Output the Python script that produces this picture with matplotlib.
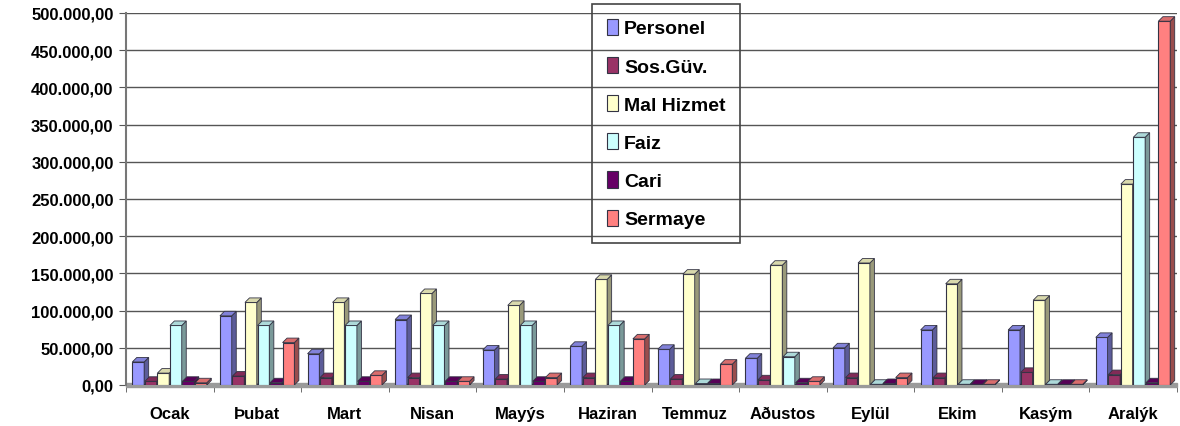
import numpy as np
import matplotlib.pyplot as plt
from matplotlib.patches import Polygon
from matplotlib import colors as mcolors

# Data
months = ["Ocak", "Þubat", "Mart", "Nisan", "Mayýs", "Haziran", "Temmuz",
          "Aðustos", "Eylül", "Ekim", "Kasým", "Aralýk"]
series = ["Personel", "Sos.Güv.", "Mal Hizmet", "Faiz", "Cari", "Sermaye"]

personel = [31000, 93000, 42000, 88000, 47000, 52000, 48000, 36000, 50000, 74000, 74000, 64000]
sos_guv = [5000, 12000, 10000, 10000, 8000, 10000, 8000, 7000, 10000, 10000, 17000, 14000]
mal_hizmet = [16000, 111000, 111000, 123000, 107000, 142000, 149000, 161000, 164000, 136000, 114000, 270000]
faiz = [80000, 80000, 80000, 80000, 80000, 80000, 2000, 38000, 1000, 1000, 1000, 333000]
cari = [5000, 3000, 5000, 5000, 5000, 5000, 2000, 3000, 2000, 1000, 1000, 3000]
sermaye = [3000, 57000, 13000, 5000, 10000, 62000, 28000, 5000, 10000, 1000, 1000, 489000]

values = [personel, sos_guv, mal_hizmet, faiz, cari, sermaye]
bar_colors = ["#9999FF", "#993366", "#FFFFCC", "#CCFFFF", "#660066", "#FF8080"]

yticks = np.arange(0, 500001, 50000)
ytick_labels = ["0,00"] + [f"{v // 1000}.000,00" for v in yticks[1:]]

plt.rcParams['font.family'] = ['Liberation Sans', 'DejaVu Sans']

fig = plt.figure(figsize=(11.8, 4.27), dpi=100)
ax = fig.add_axes([126 / 1180, 1 - 386 / 427, 1051 / 1180, 372 / 427])

x = np.arange(len(months))
width = 0.135
step = 0.143
offsets = -0.36 + step * np.arange(len(series))

ax.set_xlim(-0.5, len(months) - 0.5)
ax.set_ylim(0, 500000)

# 3D depth in data units (fixed pixel size)
px_x = len(months) / 1051
px_y = 500000 / 372
dx = 4.5 * px_x
dy = 4.5 * px_y


def darker(c, f):
    r, g, b = mcolors.to_rgb(c)
    return (r * f, g * f, b * f)


for vals, col, off, name in zip(values, bar_colors, offsets, series):
    bars = ax.bar(x + off, vals, width, color=col, edgecolor="#333344",
                  linewidth=0.8, label=name, zorder=3)
    for b in bars:
        x0 = b.get_x()
        x1 = x0 + b.get_width()
        h = b.get_height()
        side = Polygon([(x1, 0), (x1 + dx, dy), (x1 + dx, h + dy), (x1, h)],
                       closed=True, facecolor=darker(col, 0.6),
                       edgecolor="#333344", linewidth=0.6, zorder=3)
        top = Polygon([(x0, h), (x0 + dx, h + dy), (x1 + dx, h + dy), (x1, h)],
                      closed=True, facecolor=darker(col, 0.85),
                      edgecolor="#333344", linewidth=0.6, zorder=3)
        ax.add_patch(side)
        ax.add_patch(top)

# floor
ax.axhspan(-2500, 2500, color="#9a9a9a", zorder=2, clip_on=False)

ax.set_yticks(yticks)
ax.set_yticklabels(ytick_labels, fontsize=12, fontweight="bold")
ax.set_xticks(x)
ax.set_xticklabels(months, fontsize=12, fontweight="bold")
ax.set_xticks(np.arange(len(months) + 1) - 0.5, minor=True)
ax.tick_params(axis="x", which="major", length=0, pad=15)
ax.tick_params(axis="x", which="minor", length=5, color="#555555")
ax.tick_params(axis="y", length=5, color="#555555", pad=4)

ax.grid(axis="y", color="#555555", linewidth=1.0, zorder=0)
for s in ["top", "right"]:
    ax.spines[s].set_visible(False)
ax.spines["left"].set_color("#777777")
ax.spines["left"].set_linewidth(1.5)
ax.spines["bottom"].set_visible(False)

leg = fig.legend(loc="upper left", bbox_to_anchor=(592 / 1180, 1 - 5 / 427),
                 frameon=True, fancybox=False, facecolor="none",
                 edgecolor="#444444", labelspacing=1.0, handlelength=0.6,
                 handleheight=0.9, handletextpad=0.3, borderpad=0.75,
                 borderaxespad=0, prop={"weight": "bold", "size": 14})
leg.get_frame().set_linewidth(1.2)
leg.get_frame().set_alpha(None)

fig.savefig("out.png", dpi=100)
